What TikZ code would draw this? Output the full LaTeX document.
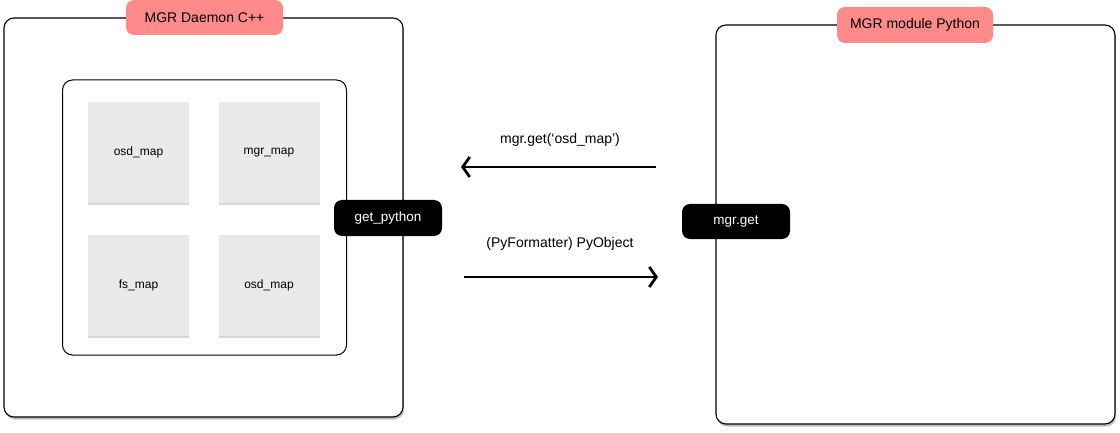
\documentclass[tikz,border=0pt]{standalone}
\usepackage{fontspec}
\setmainfont{Liberation Sans}
\usetikzlibrary{arrows.meta,shadows,positioning}
\definecolor{lblred}{HTML}{FF8A8A}
\definecolor{mapgray}{HTML}{EAEAEA}
\tikzset{
  panel/.style={draw=black, line width=1.1pt, rounded corners=10pt, fill=white,
    drop shadow={shadow xshift=1pt, shadow yshift=-2.5pt, opacity=0.25, fill=black}},
  innerpanel/.style={draw=black, line width=1pt, rounded corners=10pt, fill=white},
  tag/.style={fill=lblred, rounded corners=8pt, font=\fontsize{14}{16}\selectfont, inner sep=0pt},
  mapbox/.style={fill=mapgray, inner sep=0pt, minimum width=101pt, minimum height=101pt,
    font=\fontsize{12}{14}\selectfont,
    drop shadow={shadow xshift=0pt, shadow yshift=-2pt, opacity=0.25, fill=black!60}},
  blackpill/.style={fill=black, text=white, rounded corners=8pt, inner sep=0pt, font=\fontsize{13.5}{15}\selectfont},
  flow/.style={line width=2.8pt, -{Straight Barb[length=7pt,width=20pt,line width=2.8pt]}},
  flowlabel/.style={font=\fontsize{14}{16}\selectfont}
}
\begin{document}
\begin{tikzpicture}[x=1pt,y=-1pt]
\useasboundingbox (0,0) rectangle (1120,433);
% left outer panel
\node[panel, minimum width=399pt, minimum height=399pt, inner sep=0pt] (left) at (203.5,217.5) {};
\node[tag, minimum width=157pt, minimum height=35pt] (lefttag) at (204.5,17.5) {MGR Daemon C++};
% inner panel
\node[innerpanel, minimum width=284pt, minimum height=275pt, inner sep=0pt] (inner) at (204.5,217.5) {};
% maps
\node[mapbox] (m1) at (138.5,152.5) {osd\_map};
\node[mapbox] (m2) at (269,152.5) {mgr\_map};
\node[mapbox] (m3) at (138.5,285.5) {fs\_map};
\node[mapbox] (m4) at (269,285.5) {osd\_map};
% right panel
\node[panel, minimum width=399pt, minimum height=399pt, inner sep=0pt] (right) at (915.5,224.5) {};
\node[tag, minimum width=156pt, minimum height=36pt] (righttag) at (915,25) {MGR module Python};
% pills
\node[blackpill, minimum width=108pt, minimum height=36pt] (gp) at (388,218) {get\_python};
\node[blackpill, minimum width=108pt, minimum height=35pt] (mg) at (736,221.5) {mgr.get};
% arrows
\coordinate (a1s) at (656,167);
\coordinate (a1e) at (461,167);
\coordinate (a2s) at (464,277);
\coordinate (a2e) at (658,277);
\draw[flow] (a1s) -- (a1e);
\draw[flow] (a2s) -- (a2e);
\node[flowlabel] (l1) at (560,140) {mgr.get(‘osd\_map’)};
\node[flowlabel] (l2) at (560,244) {(PyFormatter) PyObject};
\end{tikzpicture}
\end{document}
